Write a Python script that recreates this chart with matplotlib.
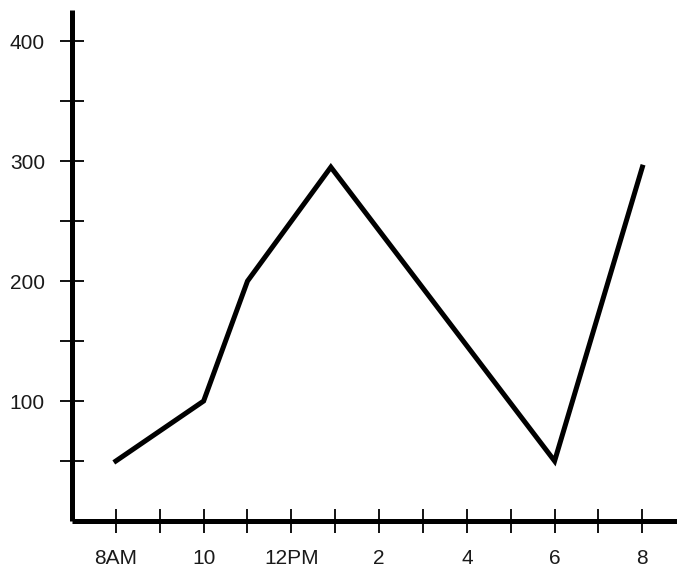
import matplotlib

matplotlib.use("Agg")
import matplotlib.pyplot as plt

# hours of day (24h) and readings
hours = [8, 10, 11, 12.9, 18, 20]
values = [50, 100, 200, 295, 50, 295]

major_hours = [8, 10, 12, 14, 16, 18, 20]
major_labels = ["8AM", "10", "12PM", "2", "4", "6", "8"]
minor_hours = [9, 11, 13, 15, 17, 19]

y_major = [100, 200, 300, 400]
y_minor = [50, 150, 250, 350]

plt.rcParams["font.family"] = ["Liberation Sans", "DejaVu Sans"]

fig = plt.figure(figsize=(6.77, 5.72), dpi=100)
ax = fig.add_axes([72 / 677, 51 / 572, 605 / 677, 511 / 572])

ax.plot(hours, values, color="black", lw=3.6, solid_joinstyle="miter")

ax.set_xlim(7.0, 20.79)
ax.set_ylim(0, 426)

for side in ("top", "right"):
    ax.spines[side].set_visible(False)
for side in ("left", "bottom"):
    ax.spines[side].set_linewidth(3.6)
    ax.spines[side].set_capstyle("butt")

ax.set_xticks(major_hours, major_labels)
ax.set_xticks(minor_hours, minor=True)
ax.set_yticks(y_major)
ax.set_yticks(y_minor, minor=True)

ax.tick_params(axis="x", which="both", direction="inout", length=17, width=1.3,
               pad=12, labelsize=15, labelcolor="#1a1a1a")
ax.tick_params(axis="y", which="both", direction="inout", length=17, width=1.3,
               pad=11, labelsize=15, labelcolor="#1a1a1a")

fig.savefig("out.png", dpi=100)
